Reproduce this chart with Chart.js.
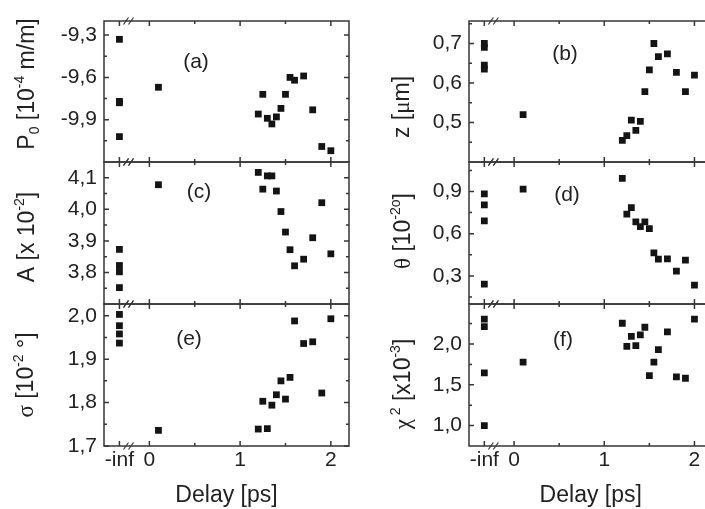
<!DOCTYPE html>
<html>
<head>
<meta charset="utf-8">
<script src="https://cdn.jsdelivr.net/npm/chart.js@4.4.0/dist/chart.umd.min.js"></script>
<style>
  body { margin: 0; width: 705px; height: 509px; overflow: hidden; background: #fff; position: relative; }
  canvas { position: absolute; }
</style>
</head>
<body>
<canvas id="pa"></canvas>
<canvas id="pb"></canvas>
<canvas id="pc"></canvas>
<canvas id="pd"></canvas>
<canvas id="pe"></canvas>
<canvas id="pf"></canvas>
<script>
// delay of each measurement, -inf = unpumped reference
const delays = [-Infinity, -Infinity, -Infinity, -Infinity, 0.1, 1.2, 1.25, 1.3, 1.35, 1.4, 1.45, 1.5, 1.55, 1.6, 1.7, 1.8, 1.9, 2.0];

const p0Values    = [-9.33, -9.77, -9.78, -10.02, -9.67, -9.86, -9.72, -9.89, -9.93, -9.88, -9.82, -9.72, -9.60, -9.62, -9.59, -9.83, -10.09, -10.12];
const zValues     = [0.700, 0.690, 0.645, 0.635, 0.520, 0.455, 0.467, 0.506, 0.480, 0.503, 0.578, 0.633, 0.700, 0.667, 0.674, 0.627, 0.578, 0.620];
const aValues     = [3.873, 3.822, 3.802, 3.752, 4.078, 4.117, 4.064, 4.106, 4.106, 4.058, 3.993, 3.928, 3.872, 3.821, 3.842, 3.910, 4.021, 3.859];
const thetaValues = [0.884, 0.805, 0.691, 0.241, 0.917, 0.993, 0.739, 0.786, 0.684, 0.650, 0.684, 0.636, 0.464, 0.419, 0.421, 0.334, 0.412, 0.234];
const sigmaValues = [2.003, 1.977, 1.958, 1.937, 1.736, 1.739, 1.803, 1.740, 1.794, 1.818, 1.850, 1.808, 1.858, 1.988, 1.936, 1.940, 1.822, 1.993];
const chi2Values  = [2.304, 2.214, 1.646, 1.000, 1.778, 2.254, 1.971, 2.094, 1.979, 2.111, 2.205, 1.612, 1.778, 1.930, 2.148, 1.596, 1.580, 2.304];

const p0Ticks = [-9.3, -9.6, -9.9],        p0Minor = [-9.45, -9.75, -10.05];
const zTicks = [0.5, 0.6, 0.7],            zMinor = [0.45, 0.55, 0.65, 0.75];
const aTicks = [3.8, 3.9, 4.0, 4.1],       aMinor = [3.75, 3.85, 3.95, 4.05];
const thetaTicks = [0.3, 0.6, 0.9],        thetaMinor = [0.15, 0.45, 0.75, 1.05];
const sigmaTicks = [1.7, 1.8, 1.9, 2.0],   sigmaMinor = [1.75, 1.85, 1.95];
const chi2Ticks = [1.0, 1.5, 2.0],         chi2Minor = [1.25, 1.75, 2.25];

// the broken x axis: -inf is drawn left of 0
const INF_POS = -0.33;
const BREAK_POS = -0.23;
const xTickValues = [INF_POS, 0, 1, 2];
const xTickLabels = ['-inf', '0', '1', '2'];
const xMinor = [0.5, 1.5];

const AXIS = '#363636';
const SANS = '"Liberation Sans", Arial, sans-serif';
const SERIF = '"Liberation Serif", serif';

const cols = [
  { left: 0, width: 360, axisW: 104, padR: 11 },
  { left: 360, width: 360, axisW: 109, padR: 7.5 }
];
const rowTop = [21, 162, 304], rowBottom = [162, 304, 446];

const panels = [
  { id: 'pa', col: 0, row: 0, values: p0Values, min: -10.2, max: -9.2, ticks: p0Ticks, minor: p0Minor,
    letter: '(a)', letterAt: [196, 62], titleAt: [34, 84],
    title: [{ t: 'P' }, { t: '0', s: 'sub' }, { t: ' [10' }, { t: '-4', s: 'sup' }, { t: ' m/m]' }] },
  { id: 'pb', col: 1, row: 0, values: zValues, min: 0.40, max: 0.757, ticks: zTicks, minor: zMinor,
    letter: '(b)', letterAt: [565, 54], titleAt: [409, 107],
    title: [{ t: 'z [' }, { t: 'μ', g: true }, { t: 'm]' }] },
  { id: 'pc', col: 0, row: 1, values: aValues, min: 3.70, max: 4.15, ticks: aTicks, minor: aMinor,
    letter: '(c)', letterAt: [199, 192], titleAt: [34, 237],
    title: [{ t: 'A [x 10' }, { t: '-2', s: 'sup' }, { t: ']' }] },
  { id: 'pd', col: 1, row: 1, values: thetaValues, min: 0.10, max: 1.11, ticks: thetaTicks, minor: thetaMinor,
    letter: '(d)', letterAt: [567, 195], titleAt: [410, 231],
    title: [{ t: 'θ', g: true }, { t: ' [10' }, { t: '-2o', s: 'sup' }, { t: ']' }] },
  { id: 'pe', col: 0, row: 2, values: sigmaValues, min: 1.70, max: 2.027, ticks: sigmaTicks, minor: sigmaMinor,
    letter: '(e)', letterAt: [189, 339], titleAt: [33, 375],
    title: [{ t: 'σ', g: true }, { t: ' [10' }, { t: '-2', s: 'sup' }, { t: ' °]' }] },
  { id: 'pf', col: 1, row: 2, values: chi2Values, min: 0.75, max: 2.49, ticks: chi2Ticks, minor: chi2Minor,
    letter: '(f)', letterAt: [563, 340], titleAt: [410, 384],
    title: [{ t: 'χ', g: true }, { t: ' 2', s: 'sup' }, { t: ' [x10' }, { t: '-3', s: 'sup' }, { t: ']' }] }
];

const fmt = v => v.toFixed(1).replace('.', ',');

// rotated axis title with sub/superscripts; (x, y) = baseline x, centre y
function drawRichTitle(ctx, parts, x, y) {
  const size = 23;
  const font = p => `${p.s ? Math.round(size * 0.62) : size}px ${p.g ? SERIF : SANS}`;
  ctx.save();
  ctx.translate(x, y);
  ctx.rotate(-Math.PI / 2);
  ctx.fillStyle = '#222';
  ctx.textBaseline = 'alphabetic';
  ctx.textAlign = 'left';
  let total = 0;
  const widths = parts.map(p => { ctx.font = font(p); const w = ctx.measureText(p.t).width; total += w; return w; });
  let cx = -total / 2;
  parts.forEach((p, i) => {
    ctx.font = font(p);
    const dy = p.s === 'sup' ? -size * 0.42 : p.s === 'sub' ? size * 0.2 : 0;
    ctx.fillText(p.t, cx, dy);
    cx += widths[i];
  });
  ctx.restore();
}

const makeDecor = (panel, offX, offY) => ({
  id: 'decor',
  afterDraw(chart) {
    const { ctx, chartArea: a, scales: { x, y } } = chart;
    ctx.save();
    ctx.strokeStyle = AXIS;
    ctx.lineWidth = 1.5;
    ctx.strokeRect(a.left, a.top, a.right - a.left, a.bottom - a.top);

    ctx.beginPath();
    const xt = xTickValues.map(v => [v, 5]).concat(xMinor.map(v => [v, 3]));
    xt.forEach(([v, len]) => {
      const px = x.getPixelForValue(v);
      ctx.moveTo(px, a.top); ctx.lineTo(px, a.top + len);
      ctx.moveTo(px, a.bottom); ctx.lineTo(px, a.bottom - len);
    });
    const yt = panel.ticks.map(v => [v, 5]).concat(panel.minor.map(v => [v, 3]));
    yt.forEach(([v, len]) => {
      const py = y.getPixelForValue(v);
      ctx.moveTo(a.left, py); ctx.lineTo(a.left + len, py);
      ctx.moveTo(a.right, py); ctx.lineTo(a.right - len, py);
    });
    ctx.stroke();

    // axis break marks
    ctx.lineWidth = 1.2;
    ctx.beginPath();
    const bx = x.getPixelForValue(BREAK_POS);
    [a.top, a.bottom].forEach(yy => {
      [-2.5, 2.5].forEach(dx => {
        ctx.moveTo(bx + dx - 2.5, yy + 3.5);
        ctx.lineTo(bx + dx + 2.5, yy - 3.5);
      });
    });
    ctx.stroke();

    ctx.fillStyle = '#222';
    ctx.font = `21px ${SANS}`;
    ctx.textAlign = 'center';
    ctx.textBaseline = 'middle';
    ctx.fillText(panel.letter, panel.letterAt[0] - offX, panel.letterAt[1] - offY);

    drawRichTitle(ctx, panel.title, panel.titleAt[0] - offX, panel.titleAt[1] - offY);
    ctx.restore();
  }
});

panels.forEach(panel => {
  const col = cols[panel.col];
  const bottomRow = panel.row === 2;
  const top = rowTop[panel.row] - 21;
  const height = rowBottom[panel.row] - top + (bottomRow ? 63 : 21);
  const canvas = document.getElementById(panel.id);
  canvas.width = col.width;
  canvas.height = height;
  canvas.style.left = col.left + 'px';
  canvas.style.top = top + 'px';

  const points = delays.map((d, i) => ({ x: isFinite(d) ? d : INF_POS, y: panel.values[i] }));

  new Chart(canvas, {
    type: 'scatter',
    data: {
      datasets: [{
        data: points,
        pointStyle: 'rect',
        pointRadius: 4.8,
        pointBackgroundColor: '#141414',
        pointBorderWidth: 0
      }]
    },
    options: {
      responsive: false,
      animation: false,
      events: [],
      layout: { padding: { left: 0, right: col.padR, top: 21, bottom: bottomRow ? 0 : 21 } },
      plugins: { legend: { display: false }, tooltip: { enabled: false } },
      scales: {
        x: {
          type: 'linear',
          min: -0.5,
          max: 2.2,
          display: bottomRow,
          grid: { display: false, drawTicks: false },
          border: { display: false },
          afterBuildTicks: s => { s.ticks = xTickValues.map(v => ({ value: v })); },
          afterFit: s => { s.height = bottomRow ? 63 : 0; },
          ticks: {
            autoSkip: false,
            maxRotation: 0,
            padding: 2,
            color: '#222',
            font: { family: SANS, size: 21 },
            callback: (v, i) => xTickLabels[i]
          },
          title: {
            display: true,
            text: 'Delay [ps]',
            color: '#222',
            font: { family: SANS, size: 23 },
            padding: { top: 0, bottom: 0 }
          }
        },
        y: {
          type: 'linear',
          min: panel.min,
          max: panel.max,
          grid: { display: false, drawTicks: false },
          border: { display: false },
          afterBuildTicks: s => { s.ticks = panel.ticks.map(v => ({ value: v })); },
          afterFit: s => { s.width = col.axisW; },
          ticks: {
            autoSkip: false,
            padding: 7,
            color: '#222',
            font: { family: SANS, size: 21 },
            callback: v => fmt(v)
          }
        }
      }
    },
    plugins: [makeDecor(panel, col.left, top)]
  });
});
</script>
</body>
</html>
